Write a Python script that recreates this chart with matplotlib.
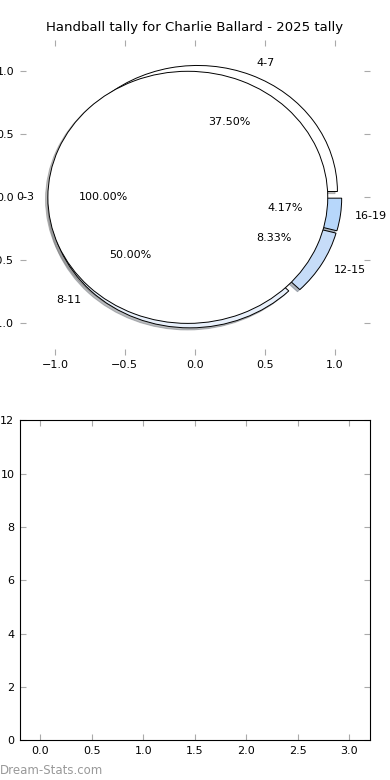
import matplotlib
matplotlib.use("Agg")
import matplotlib.pyplot as plt
import numpy as np

# tally per age band
labels = ['4-7', '8-11', '12-15', '16-19']
counts = [9, 12, 2, 1]
colours = ['#ffffff', '#e8f0fb', '#c6dcf8', '#b7d7fb']
first_label = ['0-3']
first_count = [1]

fig = plt.figure(figsize=(3.9, 7.8), dpi=100)
ax1 = fig.add_axes([0.051, 0.545, 0.897, 0.404])
ax2 = fig.add_axes([0.051, 0.051, 0.897, 0.410])

shadow = dict(ox=-0.012, oy=-0.012, shade=0.5)

# pie: the age bands, then 0-3 on top
ax1.pie(counts, labels=labels, colors=colours, explode=[0.05] * len(counts),
        autopct='%1.2f%%', shadow=shadow, startangle=0,
        wedgeprops=dict(linewidth=0.7, edgecolor='black'),
        textprops=dict(fontsize=8))
ax1.pie(first_count, labels=first_label, colors=['#ffffff'], explode=[0.05],
        autopct='%1.2f%%', shadow=shadow, startangle=0,
        wedgeprops=dict(linewidth=0.7, edgecolor='black'),
        textprops=dict(fontsize=8))
ax1.set_aspect('auto')
ax1.set_xlim(-1.25, 1.25)
ax1.set_ylim(-1.25, 1.25)
ax1.set_xticks([-1.0, -0.5, 0.0, 0.5, 1.0])
ax1.set_yticks([-1.0, -0.5, 0.0, 0.5, 1.0])
ax1.set_frame_on(False)
ax1.set_title('Handball tally for Charlie Ballard - 2025 tally', fontsize=9.5)

# bar chart with the same counts (bars not shown)
x = np.arange(len(counts))
ax2.bar(x, counts, width=0.4, align='center', color='white', linewidth=0)
ax2.set_xlim(-0.2, 3.2)
ax2.set_ylim(0, 12)
ax2.set_xticks(np.arange(0, 3.01, 0.5))
ax2.set_yticks(np.arange(0, 13, 2))

for ax in (ax1, ax2):
    ax.tick_params(direction='in', length=4, color='#aaaaaa', labelsize=8,
                   top=True, right=True, pad=4)

fig.text(0.0, 0.008, 'Dream-Stats.com', color='#999999', fontsize=8.5)

plt.savefig('out.png', dpi=100)
